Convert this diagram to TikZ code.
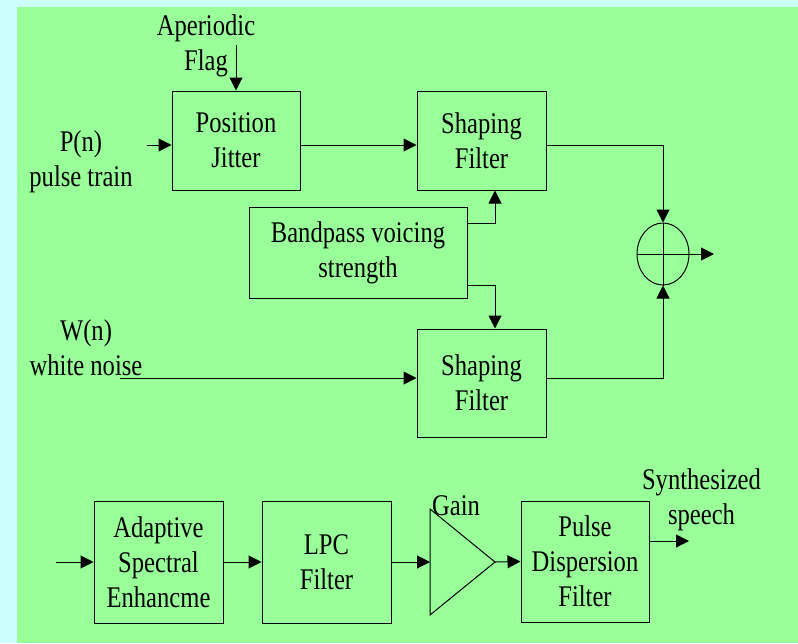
\documentclass[tikz,border=0pt]{standalone}
\usepackage{fontspec}
\setmainfont{Liberation Serif}[FakeStretch=0.82]
\usetikzlibrary{arrows.meta,shapes.geometric}
\definecolor{bgcyan}{HTML}{CCFFFF}
\definecolor{bggreen}{HTML}{99FF99}
\tikzset{
  blockbox/.style={draw, line width=1pt, inner sep=0pt, align=center},
  sumnode/.style={draw, line width=1pt, ellipse, inner sep=0pt, minimum width=52pt, minimum height=62pt},
  txt/.style={align=center, inner sep=0pt},
  every node/.append style={font=\fontsize{30}{35}\selectfont},
}
\begin{document}
\begin{tikzpicture}[x=1pt, y=-1pt, line width=1pt, >={Triangle[length=13pt,width=13pt]}]
  % Background
  \fill[bgcyan] (0,0) rectangle (798,643);
  \fill[bggreen] (17,7) rectangle (798,643);
  \useasboundingbox (0,0) rectangle (798,643);

  % Voiced / unvoiced branches
  \node[blockbox, minimum width=128pt, minimum height=99pt] (jitter) at (236,140.5) {Position\\Jitter};
  \node[blockbox, minimum width=129pt, minimum height=99pt] (shapeA) at (481.5,140.5) {Shaping\\Filter};
  \node[blockbox, minimum width=218pt, minimum height=91pt] (bandpass) at (358,252.5) {Bandpass voicing\\strength};
  \node[blockbox, minimum width=129pt, minimum height=108pt] (shapeB) at (481.5,383) {Shaping\\Filter};
  \node[sumnode] (sum) at (663,254) {};
  \draw (sum.north) -- (sum.south);
  \draw (sum.west) -- (sum.east);

  \node[txt] (flag) at (206,46) {Aperiodic\\Flag};
  \node[txt] (pulse) at (81,162) {P(n)\\pulse train};
  \node[txt] (noise) at (86,348) {W(n)\\white noise};
  \coordinate (flagin) at (236,45);
  \coordinate (pin) at (147,145);
  \coordinate (noisein) at (120,378);
  \coordinate (sumout) at (714,254);

  \draw[->] (flagin) -- (jitter.north);
  \draw[->] (pin) -- (pin -| jitter.west);
  \draw[->] ([yshift=-4.5pt]jitter.east) -- ([yshift=-4.5pt]shapeA.west);
  \draw[->] ([yshift=-4.5pt]shapeA.east) -| (sum.north);
  \draw[->] ([yshift=29.5pt]bandpass.east) -| ([xshift=13.5pt]shapeA.south);
  \draw[->] ([yshift=-32.5pt]bandpass.east) -| ([xshift=13.5pt]shapeB.north);
  \draw[->] (noisein) -- (noisein -| shapeB.west);
  \draw[->] ([yshift=5pt]shapeB.east) -| (sum.south);
  \draw[->] (sum.east) -- (sumout);

  % Synthesis chain
  \node[blockbox, minimum width=129pt, minimum height=122pt] (adapt) at (158.5,562) {Adaptive\\Spectral\\Enhancme};
  \node[blockbox, minimum width=129pt, minimum height=122pt] (lpc) at (326.5,562) {LPC\\Filter};
  \draw (430,509) -- (495,562) -- (430,615) -- cycle;
  \coordinate (gainin) at (430,562);
  \coordinate (gainout) at (495,562);
  \node[txt] (gain) at (456,506) {Gain};
  \node[blockbox, minimum width=128pt, minimum height=121pt] (disp) at (585,561.5) {Pulse\\Dispersion\\Filter};
  \node[txt] (speech) at (701.5,500) {Synthesized\\speech};
  \coordinate (chainin) at (56,562);
  \coordinate (speechout) at (689,541);

  \draw[->] (chainin) -- (adapt.west);
  \draw[->] (adapt.east) -- (lpc.west);
  \draw[->] (lpc.east) -- (gainin);
  \draw[->] (gainout) -- (disp.west);
  \draw[->] ([yshift=20.5pt]disp.east) -- (speechout);
\end{tikzpicture}
\end{document}
